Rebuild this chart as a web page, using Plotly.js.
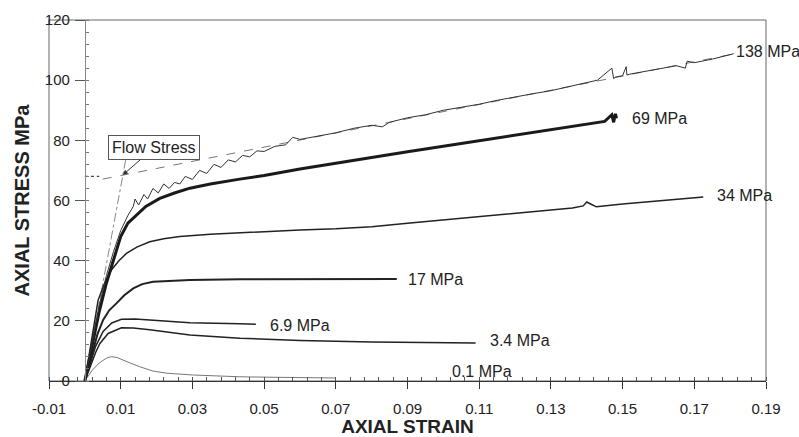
<!DOCTYPE html>
<html>
<head>
<meta charset="utf-8">
<script src="https://cdn.plot.ly/plotly-3.0.1.min.js"></script>
<style>html,body{margin:0;padding:0;background:#fff;}#chart{width:799px;height:437px;}</style>
</head>
<body>
<div id="chart"></div>
<script>
// ---- data ----
const s138_x = [0,0.002,0.004,0.006,0.008,0.010,0.012,0.0135,0.014,0.015,0.0165,0.0175,0.019,0.0205,0.022,0.0235,0.025,0.0265,0.028,0.030,0.032,0.034,0.036,0.038,0.040,0.042,0.044,0.046,0.048,0.050,0.053,0.056,0.058,0.060,0.065,0.070,0.075,0.080,0.083,0.085,0.090,0.095,0.100,0.105,0.110,0.115,0.120,0.125,0.130,0.135,0.140,0.143,0.147,0.1475,0.148,0.150,0.151,0.1512,0.152,0.160,0.165,0.1675,0.168,0.170,0.175,0.181];
const s138_y = [0,12,25,35,43,50,55,58,60.5,58.5,62,60.5,64,62.5,65.5,64,66,65.5,68,67,70,69,72,71,73.5,72.8,75,74.5,76.5,76.3,78,78.5,81,80.3,81.5,82.5,84,85,84.5,86,87.5,88.5,90,91,92,93.3,94.5,95.5,96.5,97.8,99,100,104,100.5,101,101.5,104.5,101.7,102,103.8,104.8,104,106.3,105.8,107,108.8];
const s69_x = [0,0.002,0.004,0.006,0.008,0.010,0.012,0.0144,0.017,0.0209,0.025,0.0293,0.035,0.0432,0.050,0.060,0.070,0.080,0.090,0.100,0.110,0.120,0.130,0.140,0.145,0.147,0.1475,0.148,0.1483];
const s69_y = [0,12,23,32.5,40.5,48,52.5,55.2,58,60.7,62.5,64.1,65.5,67.1,68.3,70.5,72.5,74.3,76.2,78,79.8,81.8,83.6,85.3,86.3,88.5,86,88.8,87.3];
const s34_x = [0,0.002,0.0037,0.0055,0.0074,0.0095,0.0116,0.0145,0.0181,0.022,0.0265,0.035,0.0432,0.050,0.060,0.070,0.080,0.090,0.100,0.110,0.120,0.130,0.136,0.139,0.140,0.1415,0.1427,0.150,0.160,0.1725];
const s34_y = [0,14,26.9,32.5,36.9,40,42.4,44.5,46.3,47.3,48.0,48.8,49.3,49.8,50.2,50.6,51.3,52.4,53.5,54.5,55.6,56.8,57.5,58.2,59.5,58.6,57.9,58.8,59.9,61.2];
const s17_x = [0,0.002,0.0035,0.0051,0.0068,0.0088,0.011,0.0135,0.016,0.019,0.0293,0.0432,0.060,0.075,0.087];
const s17_y = [0,9,15.5,20.3,23.5,25.8,28.5,30.8,32.2,33.0,33.6,33.8,33.9,33.8,33.9];
const s69b_x = [0,0.0015,0.003,0.0051,0.0075,0.0102,0.014,0.0181,0.0293,0.0432,0.0477];
const s69b_y = [0,6,11.5,16.5,19.3,20.5,20.6,20.3,19.4,19.0,18.9];
const s34b_x = [0,0.0015,0.003,0.0042,0.0065,0.0102,0.0135,0.0181,0.0293,0.0432,0.060,0.080,0.095,0.109];
const s34b_y = [0,5,9.5,12.5,15.8,17.7,17.6,17.0,15.3,14.2,13.5,13.0,12.8,12.6];
const s01_x = [0,0.002,0.004,0.006,0.0074,0.009,0.012,0.0153,0.019,0.0228,0.030,0.0432,0.055,0.070];
const s01_y = [0,3.5,6,7.6,8.1,7.8,6.3,4.75,3.3,2.6,2.0,1.4,1.2,1.0];
const elastic_x = [0,0.0117];
const elastic_y = [0,75.5];
const flowH_x = [0,0.004];
const flowH_y = [68,68];
const flowFit_x = [0.005,0.181];
const flowFit_y = [67.1,108.7];
const labelText = ["138 MPa","69 MPa","34 MPa","17 MPa","6.9 MPa","3.4 MPa","0.1 MPa"];
const labelX = [0.1812,0.152,0.1757,0.0897,0.051,0.1124,0.1018];
const labelY = [109.4,87.3,61.8,33.6,18.6,13.3,3.3];
const xTickVals = [-0.01,0.01,0.03,0.05,0.07,0.09,0.11,0.13,0.15,0.17,0.19];
const xTickText = ["-0.01","0.01","0.03","0.05","0.07","0.09","0.11","0.13","0.15","0.17","0.19"];
const yTickVals = [0,20,40,60,80,100,120];

const FONT = "Liberation Sans, Arial, sans-serif";
function tr(x,y,color,width,dash){
  return {x:x,y:y,type:'scatter',mode:'lines',line:{color:color,width:width,dash:dash||'solid'},hoverinfo:'skip',showlegend:false};
}
const data = [
  tr(flowH_x,flowH_y,'#444',1.2,'dot'),
  tr(flowFit_x,flowFit_y,'#777',1,'dash'),
  tr(elastic_x,elastic_y,'#888',1,'dashdot'),
  tr(s01_x,s01_y,'#777',1),
  tr(s34b_x,s34b_y,'#222',1.5),
  tr(s69b_x,s69b_y,'#222',1.5),
  tr(s17_x,s17_y,'#222',2),
  tr(s34_x,s34_y,'#222',1.5),
  tr(s69_x,s69_y,'#1a1a1a',3),
  tr(s138_x,s138_y,'#333',1)
];
const annotations = labelText.map((t,i)=>({x:labelX[i],y:labelY[i],xref:'x',yref:'y',text:t,showarrow:false,xanchor:'left',yanchor:'middle',font:{family:FONT,size:16,color:'#222'}}));
annotations.push({x:0.0106,y:68.5,xref:'x',yref:'y',text:'Flow Stress',showarrow:true,ax:31,ay:-27,arrowhead:2,arrowsize:1,arrowwidth:1,arrowcolor:'#333',bgcolor:'#fff',bordercolor:'#555',borderwidth:1,borderpad:3,font:{family:FONT,size:16,color:'#222'}});

const layout = {
  width:799,height:437,
  margin:{l:49,r:33,t:20,b:56},
  paper_bgcolor:'#fff',plot_bgcolor:'#fff',
  font:{family:FONT,size:15,color:'#222'},
  showlegend:false,
  xaxis:{range:[-0.01,0.19],tickvals:xTickVals,ticktext:xTickText,ticks:'outside',ticklen:7,tickcolor:'#333',
    showline:true,linecolor:'#333',linewidth:1,showgrid:false,zeroline:false,ticklabelstandoff:7,
    minor:{dtick:0.004,tick0:-0.01,ticks:'inside',ticklen:4,tickcolor:'#555',showgrid:false},
    title:{text:'AXIAL STRAIN',font:{family:FONT,size:19,weight:'bold',color:'#222'},standoff:4}},
  yaxis:{range:[0,120],tickvals:yTickVals,anchor:'free',position:0.05,ticks:'outside',ticklen:10,tickcolor:'#555',
    showline:true,linecolor:'#888',linewidth:1,showgrid:false,zeroline:false,ticklabelstandoff:2,
    minor:{dtick:4,ticks:'inside',ticklen:3,tickcolor:'#777',showgrid:false},
    title:{text:'AXIAL STRESS MPa',font:{family:FONT,size:20,weight:'bold',color:'#222'},standoff:8}},
  shapes:[{type:'rect',xref:'paper',yref:'paper',x0:0,x1:1,y0:0,y1:1,line:{color:'#666',width:1},layer:'below'}],
  annotations:annotations
};
Plotly.newPlot('chart',data,layout,{staticPlot:true});
</script>
</body>
</html>
